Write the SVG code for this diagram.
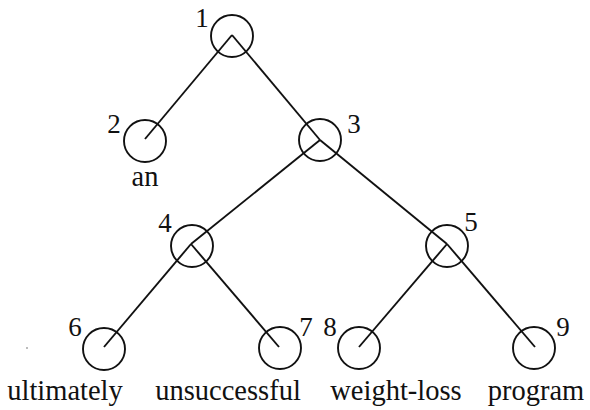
<svg xmlns="http://www.w3.org/2000/svg" width="590" height="410" viewBox="0 0 590 410">
<style>
  .node circle { fill: none; stroke: #111111; stroke-width: 1.9; }
  .edges line { stroke: #111111; stroke-width: 1.9; }
  text { font-family: "Liberation Serif", "Times New Roman", serif; fill: #111111; text-anchor: middle; }
  .num { font-size: 27px; }
  .word { font-size: 28.5px; }
</style>
<rect width="590" height="410" fill="#ffffff"/>
<g id="connectors" class="edges">
  <line x1="232" y1="35" x2="145" y2="139"/>
  <line x1="232" y1="35" x2="320" y2="140"/>
  <line x1="320" y1="140" x2="191" y2="244"/>
  <line x1="320" y1="140" x2="447" y2="244"/>
  <line x1="191" y1="244" x2="104" y2="347"/>
  <line x1="191" y1="244" x2="279" y2="347"/>
  <line x1="447" y1="244" x2="359" y2="347"/>
  <line x1="447" y1="244" x2="535" y2="347"/>
</g>
<g id="node1" class="node"><circle cx="232" cy="36" r="21"/><text class="num" x="202" y="27">1</text></g>
<g id="node2" class="node"><circle cx="145" cy="141" r="21"/><text class="num" x="114" y="133">2</text><text class="word" x="145" y="186">an</text></g>
<g id="node3" class="node"><circle cx="320" cy="140" r="21"/><text class="num" x="354" y="133">3</text></g>
<g id="node4" class="node"><circle cx="192" cy="246" r="21"/><text class="num" x="165" y="232">4</text></g>
<g id="node5" class="node"><circle cx="447" cy="246" r="21"/><text class="num" x="471" y="231">5</text></g>
<g id="node6" class="node"><circle cx="104" cy="349" r="21"/><text class="num" x="75" y="336">6</text><text class="word" x="65" y="400">ultimately</text></g>
<g id="node7" class="node"><circle cx="280" cy="348" r="21"/><text class="num" x="306" y="336">7</text><text class="word" x="228" y="400">unsuccessful</text></g>
<g id="node8" class="node"><circle cx="359" cy="348" r="21"/><text class="num" x="330" y="336">8</text><text class="word" x="396" y="400">weight-loss</text></g>
<g id="node9" class="node"><circle cx="534" cy="348" r="21"/><text class="num" x="563" y="336">9</text><text class="word" x="536" y="400">program</text></g>
<circle cx="27" cy="348" r="0.8" fill="#666666"/>
</svg>
